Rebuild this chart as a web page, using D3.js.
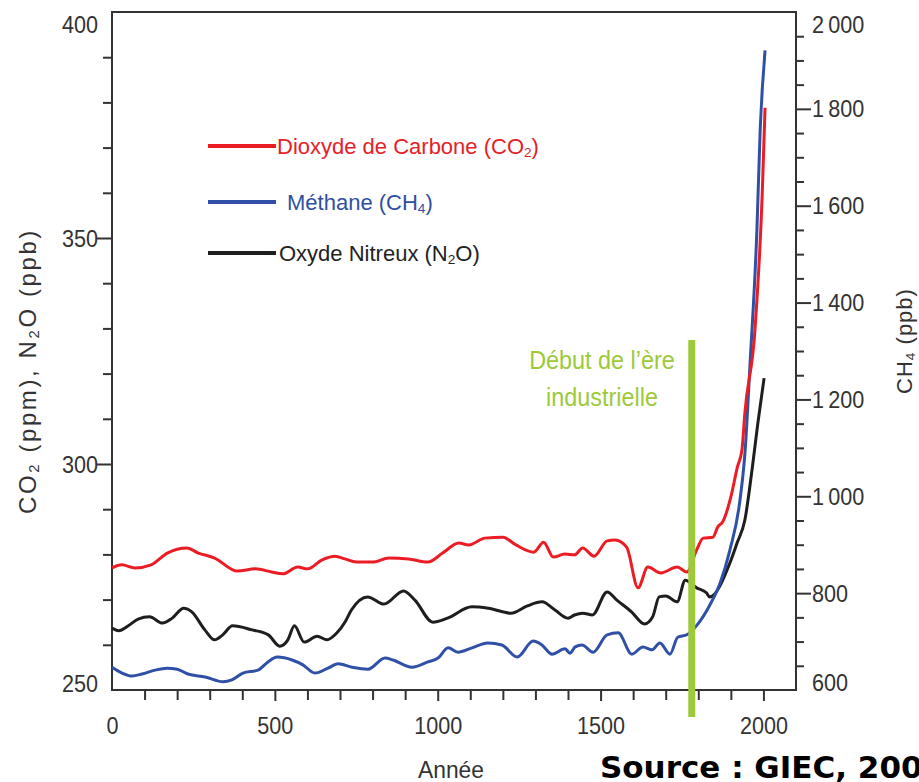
<!DOCTYPE html>
<html>
<head>
<meta charset="utf-8">
<script src="https://cdn.jsdelivr.net/npm/d3@7"></script>
<style>
body{margin:0;background:#fff}
</style>
</head>
<body>
<div class="chart"></div>
<script>
const width = 919
const height = 782
const FONT = '"Liberation Sans",Arial,sans-serif'

// valeurs (GIEC 2007)
const co2Years = [0,30,70,120,170,230,265,315,385,440,490,525,570,600,645,685,715,750,800,850,910,970,1015,1065,1095,1145,1200,1240,1295,1325,1355,1390,1420,1445,1480,1520,1545,1580,1615,1645,1685,1735,1765,1795,1815,1845,1860,1875,1900,1920,1934,1943,1974,1996,2005]
const co2Values = [277.0,277.7,277.0,277.7,280.3,281.4,280.3,279.2,276.3,276.8,276.1,275.7,277.2,276.8,278.8,279.6,279.0,278.3,278.3,279.2,279.0,278.3,280.3,282.5,282.1,283.6,283.8,282.1,280.5,282.7,279.4,280.1,279.9,281.4,279.6,283.0,283.2,281.6,272.6,277.2,275.9,277.2,276.1,281.0,283.6,283.8,286.1,287.2,292.7,299.3,303.1,311.3,329.6,359.1,378.8]

const n2oYears = [0,20,50,80,115,155,185,220,245,285,315,340,370,430,480,515,540,560,590,630,660,690,715,735,785,835,895,930,985,1030,1105,1155,1225,1275,1320,1360,1400,1420,1445,1475,1520,1550,1595,1635,1660,1680,1700,1735,1760,1795,1825,1835,1897,1919,1943,1965,1983,2002]
const n2oValues = [263.7,263.1,264.2,265.7,266.2,264.8,265.9,268.1,267.3,263.3,261.1,262.2,264.2,263.3,262.2,259.7,261.1,264.2,260.6,261.9,261.1,262.6,265.0,267.7,270.6,269.0,271.9,269.9,265.0,265.9,268.4,268.1,267.0,268.6,269.5,267.7,265.9,266.6,267.0,266.6,271.7,269.9,267.3,264.6,266.2,270.6,270.8,269.5,274.3,272.6,271.5,270.6,278.1,282.5,287.6,298.7,309.1,319.0]

const ch4Years = [0,31,61,92,132,169,200,233,286,341,368,402,448,479,507,553,586,623,663,694,737,786,838,863,921,970,1001,1032,1062,1105,1154,1197,1244,1293,1320,1351,1391,1406,1422,1443,1477,1520,1554,1596,1630,1658,1682,1713,1737,1765,1796,1836,1867,1897,1928,1944,1959,1980,1990,2005]
const ch4Values = [647,635,629,633,641,645,643,633,627,617,621,635,641,658,668,662,652,635,645,654,647,643,666,662,647,658,666,687,678,687,697,693,668,701,693,674,685,676,689,693,678,714,718,674,689,683,697,674,709,714,734,776,821,889,992,1096,1275,1550,1756,1921]

const yearTicks = [0,500,1000,1500,2000]
const leftTicks = [250,300,350,400]
const rightTicks = [600,800,1000,1200,1400,1600,1800,2000]
const industrialYear = 1780

const legendLabels = [['Dioxyde de Carbone (CO','2',')'], ['Méthane (CH','4',')'], ['Oxyde Nitreux (N','2','O)']]
const legendColors = ['#ec1c24','#2f50a6','#1e1e1e']
const textColors = ['#e52128','#2f4fa3','#222']

const svg = d3.select('.chart')
    .append('svg')
        .attr('width', width)
        .attr('height', height)
        .style('font-family', FONT)

const x = d3.scaleLinear().domain([0,2100]).range([112,796])
const yL = d3.scaleLinear().domain([250,400]).range([690,12])
const yR = d3.scaleLinear().domain([600,2000]).range([690,12])

const frFormat = d3.formatLocale({decimal:',', thousands:'\u2009', grouping:[3], currency:['','']}).format(',')

function condense(sel, k){
    sel.each(function(){
        const w = this.getComputedTextLength()
        d3.select(this).attr('textLength', w*k).attr('lengthAdjust','spacingAndGlyphs')
    })
}

function styleAxis(g){
    g.attr('font-family', FONT).attr('font-size', 24)
    g.select('.domain').remove()
    g.selectAll('line').attr('stroke','#333').attr('stroke-width',2)
    g.selectAll('text').attr('fill','#333')
}

// texte avec indices
function subText(sel, parts){
    parts.forEach((p,i)=>{
        const isSub = i%2===1
        const ts = sel.append('tspan').text(p)
        if(isSub) ts.attr('font-size','0.62em').attr('dy',3)
        else if(i>0) ts.attr('dy',-3)
    })
}

// axe gauche
svg.append('g')
    .attr('transform','translate(112,0)')
    .call(d3.axisLeft(yL).tickValues(d3.range(260,400,10).filter(v=>v%50)).tickSize(9).tickFormat(''))
    .call(styleAxis)

const gl = svg.append('g')
    .attr('transform','translate(112,0)')
    .call(d3.axisLeft(yL).tickValues(leftTicks).tickSize(15).tickPadding(-1))
    .call(styleAxis)
gl.selectAll('.tick').filter(d=>d===250||d===400).select('line').remove()
gl.selectAll('text').attr('dy', d=> d===400 ? 20 : d===250 ? 1 : 8)
condense(gl.selectAll('text'), 0.9)

// axe droit
svg.append('g')
    .attr('transform','translate(796,0)')
    .call(d3.axisRight(yR).tickValues(d3.range(650,2000,50).filter(v=>v%200)).tickSize(8).tickFormat(''))
    .call(styleAxis)

const gr = svg.append('g')
    .attr('transform','translate(796,0)')
    .call(d3.axisRight(yR).tickValues(rightTicks).tickSize(15).tickPadding(1).tickFormat(frFormat))
    .call(styleAxis)
gr.selectAll('.tick').filter(d=>d===600||d===2000).select('line').remove()
gr.selectAll('text').attr('dy', d=> d===2000 ? 20 : d===600 ? 0 : 8)
condense(gr.selectAll('text'), 0.9)

// axe des années
svg.append('g')
    .attr('transform','translate(0,690)')
    .call(d3.axisBottom(x).tickValues(d3.range(100,2100,100).filter(v=>v%500)).tickSize(10).tickFormat(''))
    .call(styleAxis)

const gb = svg.append('g')
    .attr('transform','translate(0,690)')
    .call(d3.axisBottom(x).tickValues(yearTicks).tickSize(11).tickPadding(16).tickFormat(d3.format('d')))
    .call(styleAxis)
gb.selectAll('.tick').filter(d=>d===0).select('line').remove()
condense(gb.selectAll('text'), 0.9)

// cadre
svg.append('rect')
    .attr('x', x(0)).attr('y', yL(400))
    .attr('width', x(2100)-x(0)).attr('height', yL(250)-yL(400))
    .attr('fill','none').attr('stroke','#333').attr('stroke-width',2)

// courbes
const series = [
    {years:n2oYears, values:n2oValues, y:yL, color:legendColors[2]},
    {years:ch4Years, values:ch4Values, y:yR, color:legendColors[1]},
    {years:co2Years, values:co2Values, y:yL, color:legendColors[0]}
]

series.forEach(s=>{
    const line = d3.line()
        .x(d=>x(d[0]))
        .y(d=>s.y(d[1]))
        .curve(d3.curveMonotoneX)
    svg.append('path')
        .attr('d', line(d3.zip(s.years, s.values)))
        .attr('fill','none')
        .attr('stroke', s.color)
        .attr('stroke-width', 3)
        .attr('stroke-linejoin','round')
})

// début de l'ère industrielle
svg.append('line')
    .attr('x1', x(industrialYear)).attr('x2', x(industrialYear))
    .attr('y1', 340).attr('y2', 717)
    .attr('stroke','#9dc93a').attr('stroke-width',7)

const green = svg.append('g').attr('fill','#9dc93a').attr('font-size',26).attr('text-anchor','middle')
green.append('text').attr('x',602).attr('y',369).text('Début de l\u2019ère')
green.append('text').attr('x',602).attr('y',406).text('industrielle')
condense(green.selectAll('text'), 0.9)

// légende
const legendY = [146, 202, 253]
const legendTextX = [277, 287, 279]
legendLabels.forEach((lab,i)=>{
    svg.append('line')
        .attr('x1',208).attr('x2',276)
        .attr('y1',legendY[i]).attr('y2',legendY[i])
        .attr('stroke',legendColors[i]).attr('stroke-width',4)
    svg.append('text')
        .attr('x',legendTextX[i]).attr('y',legendY[i]+8)
        .attr('font-size',22).attr('fill',textColors[i])
        .call(subText, lab)
})

// titres des axes
const tA = svg.append('text')
    .attr('x',451).attr('y',778)
    .attr('text-anchor','middle').attr('font-size',24).attr('fill','#333')
    .text('Année')
condense(tA, 0.95)

svg.append('text')
    .attr('transform','translate(36,371) rotate(-90)')
    .attr('text-anchor','middle').attr('font-size',24).attr('fill','#333')
    .attr('letter-spacing',2.6)
    .call(subText, ['CO','2',' (ppm), N','2','O (ppb)'])

svg.append('text')
    .attr('transform','translate(912,341) rotate(-90)')
    .attr('text-anchor','middle').attr('font-size',22).attr('fill','#333')
    .attr('letter-spacing',1)
    .call(subText, ['CH','4',' (ppb)'])

// source
svg.append('text')
    .attr('x',600).attr('y',778)
    .style('font-family','"DejaVu Sans",Verdana,sans-serif')
    .attr('font-weight','bold').attr('font-size',31).attr('fill','#000')
    .text('Source : GIEC, 2007')
</script>
</body>
</html>
